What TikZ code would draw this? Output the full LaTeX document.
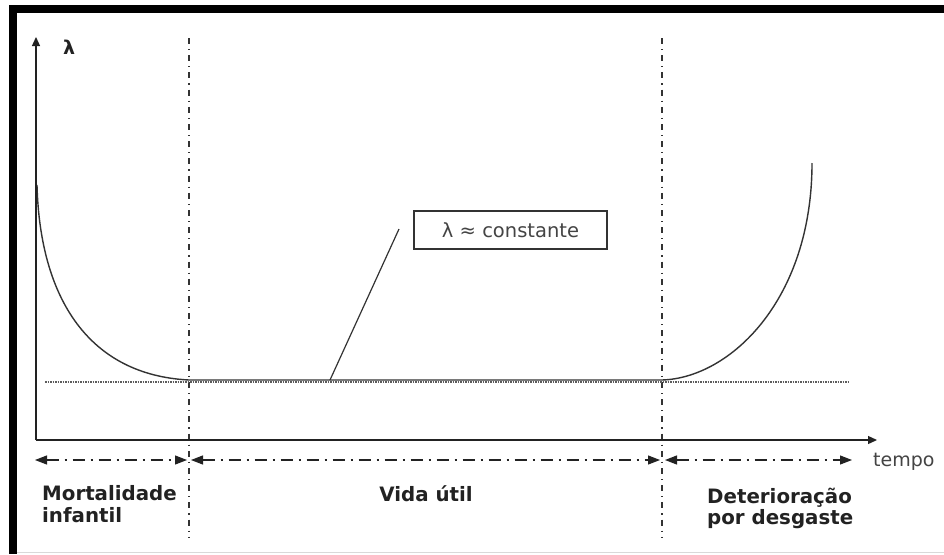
\documentclass[tikz,border=0pt]{standalone}
\usepackage{fontspec}
\setmainfont{DejaVu Sans}
\usetikzlibrary{arrows.meta}
\definecolor{ink}{HTML}{222222}
\definecolor{curve}{HTML}{333333}
\definecolor{soft}{HTML}{444444}
\tikzset{
  axis/.style={line width=1.3pt, draw=ink, -{Triangle[length=9pt,width=8pt]}},
  phase/.style={line width=1.3pt, draw=curve, dash pattern=on 6pt off 5pt on 1.2pt off 5pt},
  span/.style={line width=1.1pt, draw=ink, dash pattern=on 12pt off 6pt on 2pt off 6pt,
    {Triangle[length=12pt,width=9pt]}-{Triangle[length=12pt,width=9pt]}},
  bath/.style={line width=1.4pt, draw=curve},
  flat/.style={line width=1.2pt, draw=curve!80, dash pattern=on 1.5pt off 1pt},
  lbl/.style={font=\fontsize{19.8}{21.5}\selectfont\bfseries, text=ink, inner sep=0pt, align=left},
}
\begin{document}
\begin{tikzpicture}[x=1pt,y=-1pt]
\useasboundingbox (0,0) rectangle (944,554);
\fill[white] (0,0) rectangle (944,554);
% frame
\fill[black] (9,5) rectangle (944,13);
\fill[black] (9,5) rectangle (17,554);
\draw[black!15, line width=1pt] (17,552) -- (944,552);
% coordinates
\coordinate (O) at (36,440);
\coordinate (ytop) at (36,37);
\coordinate (xend) at (877,440);
\coordinate (v1t) at (189,38);
\coordinate (v1b) at (189,537);
\coordinate (v2t) at (662,38);
\coordinate (v2b) at (662,537);
\coordinate (c0) at (37,185);
\coordinate (c1) at (189,380);
\coordinate (c2) at (662,380);
\coordinate (c3) at (812,163);
\coordinate (d0) at (45,382);
\coordinate (d1) at (850,382);
\coordinate (lead) at (330,380);
\coordinate (leadtop) at (399,229);
\coordinate (a0) at (35,460);
\coordinate (a1) at (187,460);
\coordinate (a2) at (191,460);
\coordinate (a3) at (660,460);
\coordinate (a4) at (665,460);
\coordinate (a5) at (852,460);
% phase separators
\draw[phase] (v1t) -- (v1b);
\draw[phase] (v2t) -- (v2b);
% flat dotted reference
\draw[flat] (d0) -- (d1);
% bathtub curve
\draw[bath] (c0) .. controls (40,300) and (90,375) .. (c1) -- (c2)
  .. controls (730,378) and (812,300) .. (c3);
% axes
\draw[axis] (O) -- (ytop);
\draw[axis] (O) -- (xend);
\node[font=\fontsize{19}{22}\selectfont\bfseries, text=ink, anchor=base west, inner sep=0pt] (lam) at (63,54) {λ};
\node[font=\fontsize{19}{22}\selectfont, text=soft, anchor=base west, inner sep=0pt] (tempo) at (873,466) {tempo};
% callout
\node[draw=curve, line width=1.1pt, minimum width=193pt, minimum height=38pt, inner sep=0pt,
  font=\fontsize{19.5}{22}\selectfont, text=soft] (box) at (510.5,230) {λ ≈ constante};
\draw[line width=1.2pt, draw=curve] (lead) -- (leadtop);
% spans
\draw[span] (a0) -- (a1);
\draw[span] (a2) -- (a3);
\draw[span] (a4) -- (a5);
% labels
\node[lbl, anchor=base west] (mort) at (42,522) {Mortalidade\\infantil};
\node[lbl, anchor=base] (vida) at (426,501) {Vida útil};
\node[lbl, anchor=base west] (det) at (707,524.5) {Deterioração\\por desgaste};
\end{tikzpicture}
\end{document}
